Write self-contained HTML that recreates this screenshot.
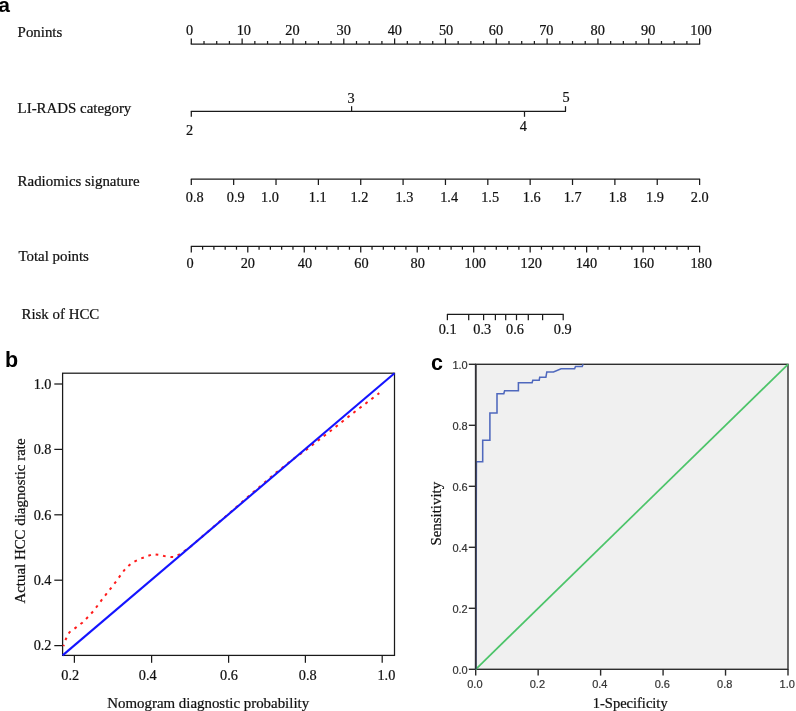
<!DOCTYPE html>
<html><head><meta charset="utf-8"><title>Nomogram figure</title>
<style>html,body{margin:0;padding:0;background:#fff;}body{width:796px;height:711px;overflow:hidden}</style>
</head><body>
<svg width="796" height="711" viewBox="0 0 796 711" style="display:block">
<text x="-1.70" y="11.60" font-size="21" text-anchor="start" font-family='"Liberation Sans", sans-serif' fill="#000" font-weight="bold">a</text>
<text x="17.60" y="36.70" font-size="14.9" text-anchor="start" font-family='"Liberation Serif", serif' fill="#111"  stroke="#111" stroke-width="0.22">Ponints</text>
<text x="17.60" y="113.10" font-size="14.9" text-anchor="start" font-family='"Liberation Serif", serif' fill="#111"  stroke="#111" stroke-width="0.22">LI-RADS category</text>
<text x="17.60" y="186.20" font-size="14.9" text-anchor="start" font-family='"Liberation Serif", serif' fill="#111"  stroke="#111" stroke-width="0.22">Radiomics signature</text>
<text x="18.40" y="261.00" font-size="14.9" text-anchor="start" font-family='"Liberation Serif", serif' fill="#111"  stroke="#111" stroke-width="0.22">Total points</text>
<text x="21.50" y="318.50" font-size="14.9" text-anchor="start" font-family='"Liberation Serif", serif' fill="#111"  stroke="#111" stroke-width="0.22">Risk of HCC</text>
<line x1="190.70" y1="44.00" x2="700.20" y2="44.00" stroke="#1a1a1a" stroke-width="1.25" />
<line x1="191.30" y1="44.00" x2="191.30" y2="38.40" stroke="#1a1a1a" stroke-width="1.25" />
<line x1="204.01" y1="44.00" x2="204.01" y2="41.00" stroke="#1a1a1a" stroke-width="1.25" />
<line x1="216.72" y1="44.00" x2="216.72" y2="41.00" stroke="#1a1a1a" stroke-width="1.25" />
<line x1="229.42" y1="44.00" x2="229.42" y2="41.00" stroke="#1a1a1a" stroke-width="1.25" />
<line x1="242.13" y1="44.00" x2="242.13" y2="38.40" stroke="#1a1a1a" stroke-width="1.25" />
<line x1="254.84" y1="44.00" x2="254.84" y2="41.00" stroke="#1a1a1a" stroke-width="1.25" />
<line x1="267.55" y1="44.00" x2="267.55" y2="41.00" stroke="#1a1a1a" stroke-width="1.25" />
<line x1="280.25" y1="44.00" x2="280.25" y2="41.00" stroke="#1a1a1a" stroke-width="1.25" />
<line x1="292.96" y1="44.00" x2="292.96" y2="38.40" stroke="#1a1a1a" stroke-width="1.25" />
<line x1="305.67" y1="44.00" x2="305.67" y2="41.00" stroke="#1a1a1a" stroke-width="1.25" />
<line x1="318.38" y1="44.00" x2="318.38" y2="41.00" stroke="#1a1a1a" stroke-width="1.25" />
<line x1="331.08" y1="44.00" x2="331.08" y2="41.00" stroke="#1a1a1a" stroke-width="1.25" />
<line x1="343.79" y1="44.00" x2="343.79" y2="38.40" stroke="#1a1a1a" stroke-width="1.25" />
<line x1="356.50" y1="44.00" x2="356.50" y2="41.00" stroke="#1a1a1a" stroke-width="1.25" />
<line x1="369.21" y1="44.00" x2="369.21" y2="41.00" stroke="#1a1a1a" stroke-width="1.25" />
<line x1="381.91" y1="44.00" x2="381.91" y2="41.00" stroke="#1a1a1a" stroke-width="1.25" />
<line x1="394.62" y1="44.00" x2="394.62" y2="38.40" stroke="#1a1a1a" stroke-width="1.25" />
<line x1="407.33" y1="44.00" x2="407.33" y2="41.00" stroke="#1a1a1a" stroke-width="1.25" />
<line x1="420.03" y1="44.00" x2="420.03" y2="41.00" stroke="#1a1a1a" stroke-width="1.25" />
<line x1="432.74" y1="44.00" x2="432.74" y2="41.00" stroke="#1a1a1a" stroke-width="1.25" />
<line x1="445.45" y1="44.00" x2="445.45" y2="38.40" stroke="#1a1a1a" stroke-width="1.25" />
<line x1="458.16" y1="44.00" x2="458.16" y2="41.00" stroke="#1a1a1a" stroke-width="1.25" />
<line x1="470.87" y1="44.00" x2="470.87" y2="41.00" stroke="#1a1a1a" stroke-width="1.25" />
<line x1="483.57" y1="44.00" x2="483.57" y2="41.00" stroke="#1a1a1a" stroke-width="1.25" />
<line x1="496.28" y1="44.00" x2="496.28" y2="38.40" stroke="#1a1a1a" stroke-width="1.25" />
<line x1="508.99" y1="44.00" x2="508.99" y2="41.00" stroke="#1a1a1a" stroke-width="1.25" />
<line x1="521.70" y1="44.00" x2="521.70" y2="41.00" stroke="#1a1a1a" stroke-width="1.25" />
<line x1="534.40" y1="44.00" x2="534.40" y2="41.00" stroke="#1a1a1a" stroke-width="1.25" />
<line x1="547.11" y1="44.00" x2="547.11" y2="38.40" stroke="#1a1a1a" stroke-width="1.25" />
<line x1="559.82" y1="44.00" x2="559.82" y2="41.00" stroke="#1a1a1a" stroke-width="1.25" />
<line x1="572.53" y1="44.00" x2="572.53" y2="41.00" stroke="#1a1a1a" stroke-width="1.25" />
<line x1="585.23" y1="44.00" x2="585.23" y2="41.00" stroke="#1a1a1a" stroke-width="1.25" />
<line x1="597.94" y1="44.00" x2="597.94" y2="38.40" stroke="#1a1a1a" stroke-width="1.25" />
<line x1="610.65" y1="44.00" x2="610.65" y2="41.00" stroke="#1a1a1a" stroke-width="1.25" />
<line x1="623.36" y1="44.00" x2="623.36" y2="41.00" stroke="#1a1a1a" stroke-width="1.25" />
<line x1="636.06" y1="44.00" x2="636.06" y2="41.00" stroke="#1a1a1a" stroke-width="1.25" />
<line x1="648.77" y1="44.00" x2="648.77" y2="38.40" stroke="#1a1a1a" stroke-width="1.25" />
<line x1="661.48" y1="44.00" x2="661.48" y2="41.00" stroke="#1a1a1a" stroke-width="1.25" />
<line x1="674.19" y1="44.00" x2="674.19" y2="41.00" stroke="#1a1a1a" stroke-width="1.25" />
<line x1="686.89" y1="44.00" x2="686.89" y2="41.00" stroke="#1a1a1a" stroke-width="1.25" />
<line x1="699.60" y1="44.00" x2="699.60" y2="38.40" stroke="#1a1a1a" stroke-width="1.25" />
<text x="189.50" y="34.60" font-size="14.3" text-anchor="middle" font-family='"Liberation Serif", serif' fill="#111"  stroke="#111" stroke-width="0.22">0</text>
<text x="243.83" y="34.60" font-size="14.3" text-anchor="middle" font-family='"Liberation Serif", serif' fill="#111"  stroke="#111" stroke-width="0.22">10</text>
<text x="292.46" y="34.60" font-size="14.3" text-anchor="middle" font-family='"Liberation Serif", serif' fill="#111"  stroke="#111" stroke-width="0.22">20</text>
<text x="343.69" y="34.60" font-size="14.3" text-anchor="middle" font-family='"Liberation Serif", serif' fill="#111"  stroke="#111" stroke-width="0.22">30</text>
<text x="394.82" y="34.60" font-size="14.3" text-anchor="middle" font-family='"Liberation Serif", serif' fill="#111"  stroke="#111" stroke-width="0.22">40</text>
<text x="446.05" y="34.60" font-size="14.3" text-anchor="middle" font-family='"Liberation Serif", serif' fill="#111"  stroke="#111" stroke-width="0.22">50</text>
<text x="495.98" y="34.60" font-size="14.3" text-anchor="middle" font-family='"Liberation Serif", serif' fill="#111"  stroke="#111" stroke-width="0.22">60</text>
<text x="546.31" y="34.60" font-size="14.3" text-anchor="middle" font-family='"Liberation Serif", serif' fill="#111"  stroke="#111" stroke-width="0.22">70</text>
<text x="597.64" y="34.60" font-size="14.3" text-anchor="middle" font-family='"Liberation Serif", serif' fill="#111"  stroke="#111" stroke-width="0.22">80</text>
<text x="648.17" y="34.60" font-size="14.3" text-anchor="middle" font-family='"Liberation Serif", serif' fill="#111"  stroke="#111" stroke-width="0.22">90</text>
<text x="701.05" y="34.60" font-size="14.3" text-anchor="middle" font-family='"Liberation Serif", serif' fill="#111"  stroke="#111" stroke-width="0.22">100</text>
<line x1="190.80" y1="111.30" x2="566.00" y2="111.30" stroke="#1a1a1a" stroke-width="1.25" />
<line x1="191.30" y1="111.30" x2="191.30" y2="116.80" stroke="#1a1a1a" stroke-width="1.25" />
<line x1="351.60" y1="111.30" x2="351.60" y2="106.20" stroke="#1a1a1a" stroke-width="1.25" />
<line x1="524.50" y1="111.30" x2="524.50" y2="116.80" stroke="#1a1a1a" stroke-width="1.25" />
<line x1="565.50" y1="111.30" x2="565.50" y2="106.20" stroke="#1a1a1a" stroke-width="1.25" />
<text x="189.50" y="135.40" font-size="14.3" text-anchor="middle" font-family='"Liberation Serif", serif' fill="#111"  stroke="#111" stroke-width="0.22">2</text>
<text x="351.00" y="102.50" font-size="14.3" text-anchor="middle" font-family='"Liberation Serif", serif' fill="#111"  stroke="#111" stroke-width="0.22">3</text>
<text x="523.30" y="131.30" font-size="14.3" text-anchor="middle" font-family='"Liberation Serif", serif' fill="#111"  stroke="#111" stroke-width="0.22">4</text>
<text x="566.20" y="102.30" font-size="14.3" text-anchor="middle" font-family='"Liberation Serif", serif' fill="#111"  stroke="#111" stroke-width="0.22">5</text>
<line x1="190.80" y1="179.00" x2="700.10" y2="179.00" stroke="#1a1a1a" stroke-width="1.25" />
<line x1="191.30" y1="179.00" x2="191.30" y2="185.00" stroke="#1a1a1a" stroke-width="1.25" />
<text x="194.80" y="202.20" font-size="14.3" text-anchor="middle" font-family='"Liberation Serif", serif' fill="#111"  stroke="#111" stroke-width="0.22">0.8</text>
<line x1="233.66" y1="179.00" x2="233.66" y2="185.00" stroke="#1a1a1a" stroke-width="1.25" />
<text x="235.80" y="202.20" font-size="14.3" text-anchor="middle" font-family='"Liberation Serif", serif' fill="#111"  stroke="#111" stroke-width="0.22">0.9</text>
<line x1="276.02" y1="179.00" x2="276.02" y2="185.00" stroke="#1a1a1a" stroke-width="1.25" />
<text x="270.00" y="202.20" font-size="14.3" text-anchor="middle" font-family='"Liberation Serif", serif' fill="#111"  stroke="#111" stroke-width="0.22">1.0</text>
<line x1="318.38" y1="179.00" x2="318.38" y2="185.00" stroke="#1a1a1a" stroke-width="1.25" />
<text x="317.70" y="202.20" font-size="14.3" text-anchor="middle" font-family='"Liberation Serif", serif' fill="#111"  stroke="#111" stroke-width="0.22">1.1</text>
<line x1="360.73" y1="179.00" x2="360.73" y2="185.00" stroke="#1a1a1a" stroke-width="1.25" />
<text x="359.40" y="202.20" font-size="14.3" text-anchor="middle" font-family='"Liberation Serif", serif' fill="#111"  stroke="#111" stroke-width="0.22">1.2</text>
<line x1="403.09" y1="179.00" x2="403.09" y2="185.00" stroke="#1a1a1a" stroke-width="1.25" />
<text x="404.40" y="202.20" font-size="14.3" text-anchor="middle" font-family='"Liberation Serif", serif' fill="#111"  stroke="#111" stroke-width="0.22">1.3</text>
<line x1="445.45" y1="179.00" x2="445.45" y2="185.00" stroke="#1a1a1a" stroke-width="1.25" />
<text x="449.10" y="202.20" font-size="14.3" text-anchor="middle" font-family='"Liberation Serif", serif' fill="#111"  stroke="#111" stroke-width="0.22">1.4</text>
<line x1="487.81" y1="179.00" x2="487.81" y2="185.00" stroke="#1a1a1a" stroke-width="1.25" />
<text x="490.10" y="202.20" font-size="14.3" text-anchor="middle" font-family='"Liberation Serif", serif' fill="#111"  stroke="#111" stroke-width="0.22">1.5</text>
<line x1="530.17" y1="179.00" x2="530.17" y2="185.00" stroke="#1a1a1a" stroke-width="1.25" />
<text x="531.80" y="202.20" font-size="14.3" text-anchor="middle" font-family='"Liberation Serif", serif' fill="#111"  stroke="#111" stroke-width="0.22">1.6</text>
<line x1="572.52" y1="179.00" x2="572.52" y2="185.00" stroke="#1a1a1a" stroke-width="1.25" />
<text x="572.60" y="202.20" font-size="14.3" text-anchor="middle" font-family='"Liberation Serif", serif' fill="#111"  stroke="#111" stroke-width="0.22">1.7</text>
<line x1="614.88" y1="179.00" x2="614.88" y2="185.00" stroke="#1a1a1a" stroke-width="1.25" />
<text x="617.80" y="202.20" font-size="14.3" text-anchor="middle" font-family='"Liberation Serif", serif' fill="#111"  stroke="#111" stroke-width="0.22">1.8</text>
<line x1="657.24" y1="179.00" x2="657.24" y2="185.00" stroke="#1a1a1a" stroke-width="1.25" />
<text x="655.00" y="202.20" font-size="14.3" text-anchor="middle" font-family='"Liberation Serif", serif' fill="#111"  stroke="#111" stroke-width="0.22">1.9</text>
<line x1="699.60" y1="179.00" x2="699.60" y2="185.00" stroke="#1a1a1a" stroke-width="1.25" />
<text x="699.70" y="202.20" font-size="14.3" text-anchor="middle" font-family='"Liberation Serif", serif' fill="#111"  stroke="#111" stroke-width="0.22">2.0</text>
<line x1="190.80" y1="246.40" x2="700.10" y2="246.40" stroke="#1a1a1a" stroke-width="1.25" />
<line x1="191.30" y1="246.40" x2="191.30" y2="252.50" stroke="#1a1a1a" stroke-width="1.25" />
<line x1="202.60" y1="246.40" x2="202.60" y2="249.70" stroke="#1a1a1a" stroke-width="1.25" />
<line x1="213.89" y1="246.40" x2="213.89" y2="249.70" stroke="#1a1a1a" stroke-width="1.25" />
<line x1="225.19" y1="246.40" x2="225.19" y2="249.70" stroke="#1a1a1a" stroke-width="1.25" />
<line x1="236.48" y1="246.40" x2="236.48" y2="249.70" stroke="#1a1a1a" stroke-width="1.25" />
<line x1="247.78" y1="246.40" x2="247.78" y2="252.50" stroke="#1a1a1a" stroke-width="1.25" />
<line x1="259.07" y1="246.40" x2="259.07" y2="249.70" stroke="#1a1a1a" stroke-width="1.25" />
<line x1="270.37" y1="246.40" x2="270.37" y2="249.70" stroke="#1a1a1a" stroke-width="1.25" />
<line x1="281.66" y1="246.40" x2="281.66" y2="249.70" stroke="#1a1a1a" stroke-width="1.25" />
<line x1="292.96" y1="246.40" x2="292.96" y2="249.70" stroke="#1a1a1a" stroke-width="1.25" />
<line x1="304.26" y1="246.40" x2="304.26" y2="252.50" stroke="#1a1a1a" stroke-width="1.25" />
<line x1="315.55" y1="246.40" x2="315.55" y2="249.70" stroke="#1a1a1a" stroke-width="1.25" />
<line x1="326.85" y1="246.40" x2="326.85" y2="249.70" stroke="#1a1a1a" stroke-width="1.25" />
<line x1="338.14" y1="246.40" x2="338.14" y2="249.70" stroke="#1a1a1a" stroke-width="1.25" />
<line x1="349.44" y1="246.40" x2="349.44" y2="249.70" stroke="#1a1a1a" stroke-width="1.25" />
<line x1="360.73" y1="246.40" x2="360.73" y2="252.50" stroke="#1a1a1a" stroke-width="1.25" />
<line x1="372.03" y1="246.40" x2="372.03" y2="249.70" stroke="#1a1a1a" stroke-width="1.25" />
<line x1="383.32" y1="246.40" x2="383.32" y2="249.70" stroke="#1a1a1a" stroke-width="1.25" />
<line x1="394.62" y1="246.40" x2="394.62" y2="249.70" stroke="#1a1a1a" stroke-width="1.25" />
<line x1="405.92" y1="246.40" x2="405.92" y2="249.70" stroke="#1a1a1a" stroke-width="1.25" />
<line x1="417.21" y1="246.40" x2="417.21" y2="252.50" stroke="#1a1a1a" stroke-width="1.25" />
<line x1="428.51" y1="246.40" x2="428.51" y2="249.70" stroke="#1a1a1a" stroke-width="1.25" />
<line x1="439.80" y1="246.40" x2="439.80" y2="249.70" stroke="#1a1a1a" stroke-width="1.25" />
<line x1="451.10" y1="246.40" x2="451.10" y2="249.70" stroke="#1a1a1a" stroke-width="1.25" />
<line x1="462.39" y1="246.40" x2="462.39" y2="249.70" stroke="#1a1a1a" stroke-width="1.25" />
<line x1="473.69" y1="246.40" x2="473.69" y2="252.50" stroke="#1a1a1a" stroke-width="1.25" />
<line x1="484.98" y1="246.40" x2="484.98" y2="249.70" stroke="#1a1a1a" stroke-width="1.25" />
<line x1="496.28" y1="246.40" x2="496.28" y2="249.70" stroke="#1a1a1a" stroke-width="1.25" />
<line x1="507.58" y1="246.40" x2="507.58" y2="249.70" stroke="#1a1a1a" stroke-width="1.25" />
<line x1="518.87" y1="246.40" x2="518.87" y2="249.70" stroke="#1a1a1a" stroke-width="1.25" />
<line x1="530.17" y1="246.40" x2="530.17" y2="252.50" stroke="#1a1a1a" stroke-width="1.25" />
<line x1="541.46" y1="246.40" x2="541.46" y2="249.70" stroke="#1a1a1a" stroke-width="1.25" />
<line x1="552.76" y1="246.40" x2="552.76" y2="249.70" stroke="#1a1a1a" stroke-width="1.25" />
<line x1="564.05" y1="246.40" x2="564.05" y2="249.70" stroke="#1a1a1a" stroke-width="1.25" />
<line x1="575.35" y1="246.40" x2="575.35" y2="249.70" stroke="#1a1a1a" stroke-width="1.25" />
<line x1="586.64" y1="246.40" x2="586.64" y2="252.50" stroke="#1a1a1a" stroke-width="1.25" />
<line x1="597.94" y1="246.40" x2="597.94" y2="249.70" stroke="#1a1a1a" stroke-width="1.25" />
<line x1="609.24" y1="246.40" x2="609.24" y2="249.70" stroke="#1a1a1a" stroke-width="1.25" />
<line x1="620.53" y1="246.40" x2="620.53" y2="249.70" stroke="#1a1a1a" stroke-width="1.25" />
<line x1="631.83" y1="246.40" x2="631.83" y2="249.70" stroke="#1a1a1a" stroke-width="1.25" />
<line x1="643.12" y1="246.40" x2="643.12" y2="252.50" stroke="#1a1a1a" stroke-width="1.25" />
<line x1="654.42" y1="246.40" x2="654.42" y2="249.70" stroke="#1a1a1a" stroke-width="1.25" />
<line x1="665.71" y1="246.40" x2="665.71" y2="249.70" stroke="#1a1a1a" stroke-width="1.25" />
<line x1="677.01" y1="246.40" x2="677.01" y2="249.70" stroke="#1a1a1a" stroke-width="1.25" />
<line x1="688.30" y1="246.40" x2="688.30" y2="249.70" stroke="#1a1a1a" stroke-width="1.25" />
<line x1="699.60" y1="246.40" x2="699.60" y2="252.50" stroke="#1a1a1a" stroke-width="1.25" />
<text x="190.00" y="268.00" font-size="14.3" text-anchor="middle" font-family='"Liberation Serif", serif' fill="#111"  stroke="#111" stroke-width="0.22">0</text>
<text x="247.80" y="268.00" font-size="14.3" text-anchor="middle" font-family='"Liberation Serif", serif' fill="#111"  stroke="#111" stroke-width="0.22">20</text>
<text x="304.90" y="268.00" font-size="14.3" text-anchor="middle" font-family='"Liberation Serif", serif' fill="#111"  stroke="#111" stroke-width="0.22">40</text>
<text x="361.40" y="268.00" font-size="14.3" text-anchor="middle" font-family='"Liberation Serif", serif' fill="#111"  stroke="#111" stroke-width="0.22">60</text>
<text x="417.70" y="268.00" font-size="14.3" text-anchor="middle" font-family='"Liberation Serif", serif' fill="#111"  stroke="#111" stroke-width="0.22">80</text>
<text x="475.30" y="268.00" font-size="14.3" text-anchor="middle" font-family='"Liberation Serif", serif' fill="#111"  stroke="#111" stroke-width="0.22">100</text>
<text x="531.30" y="268.00" font-size="14.3" text-anchor="middle" font-family='"Liberation Serif", serif' fill="#111"  stroke="#111" stroke-width="0.22">120</text>
<text x="586.40" y="268.00" font-size="14.3" text-anchor="middle" font-family='"Liberation Serif", serif' fill="#111"  stroke="#111" stroke-width="0.22">140</text>
<text x="643.40" y="268.00" font-size="14.3" text-anchor="middle" font-family='"Liberation Serif", serif' fill="#111"  stroke="#111" stroke-width="0.22">160</text>
<text x="701.20" y="268.00" font-size="14.3" text-anchor="middle" font-family='"Liberation Serif", serif' fill="#111"  stroke="#111" stroke-width="0.22">180</text>
<line x1="446.90" y1="314.40" x2="563.70" y2="314.40" stroke="#1a1a1a" stroke-width="1.25" />
<line x1="447.40" y1="314.40" x2="447.40" y2="320.20" stroke="#1a1a1a" stroke-width="1.25" />
<line x1="468.70" y1="314.40" x2="468.70" y2="320.20" stroke="#1a1a1a" stroke-width="1.25" />
<line x1="483.60" y1="314.40" x2="483.60" y2="320.20" stroke="#1a1a1a" stroke-width="1.25" />
<line x1="495.40" y1="314.40" x2="495.40" y2="320.20" stroke="#1a1a1a" stroke-width="1.25" />
<line x1="505.70" y1="314.40" x2="505.70" y2="320.20" stroke="#1a1a1a" stroke-width="1.25" />
<line x1="516.50" y1="314.40" x2="516.50" y2="320.20" stroke="#1a1a1a" stroke-width="1.25" />
<line x1="528.30" y1="314.40" x2="528.30" y2="320.20" stroke="#1a1a1a" stroke-width="1.25" />
<line x1="542.60" y1="314.40" x2="542.60" y2="320.20" stroke="#1a1a1a" stroke-width="1.25" />
<line x1="563.20" y1="314.40" x2="563.20" y2="320.20" stroke="#1a1a1a" stroke-width="1.25" />
<text x="447.60" y="334.00" font-size="14.3" text-anchor="middle" font-family='"Liberation Serif", serif' fill="#111"  stroke="#111" stroke-width="0.22">0.1</text>
<text x="482.30" y="334.00" font-size="14.3" text-anchor="middle" font-family='"Liberation Serif", serif' fill="#111"  stroke="#111" stroke-width="0.22">0.3</text>
<text x="515.00" y="334.00" font-size="14.3" text-anchor="middle" font-family='"Liberation Serif", serif' fill="#111"  stroke="#111" stroke-width="0.22">0.6</text>
<text x="562.70" y="334.00" font-size="14.3" text-anchor="middle" font-family='"Liberation Serif", serif' fill="#111"  stroke="#111" stroke-width="0.22">0.9</text>
<text x="5.10" y="366.90" font-size="21.5" text-anchor="start" font-family='"Liberation Sans", sans-serif' fill="#000" font-weight="bold">b</text>
<rect x="62.6" y="373.2" width="331.9" height="282.2" fill="none" stroke="#1a1a1a" stroke-width="1.25"/>
<line x1="54.30" y1="384.00" x2="62.60" y2="384.00" stroke="#1a1a1a" stroke-width="1.25" />
<text x="51.50" y="388.70" font-size="14.3" text-anchor="end" font-family='"Liberation Serif", serif' fill="#111"  stroke="#111" stroke-width="0.22">1.0</text>
<line x1="54.30" y1="449.40" x2="62.60" y2="449.40" stroke="#1a1a1a" stroke-width="1.25" />
<text x="51.50" y="454.10" font-size="14.3" text-anchor="end" font-family='"Liberation Serif", serif' fill="#111"  stroke="#111" stroke-width="0.22">0.8</text>
<line x1="54.30" y1="514.80" x2="62.60" y2="514.80" stroke="#1a1a1a" stroke-width="1.25" />
<text x="51.50" y="519.50" font-size="14.3" text-anchor="end" font-family='"Liberation Serif", serif' fill="#111"  stroke="#111" stroke-width="0.22">0.6</text>
<line x1="54.30" y1="580.20" x2="62.60" y2="580.20" stroke="#1a1a1a" stroke-width="1.25" />
<text x="51.50" y="584.90" font-size="14.3" text-anchor="end" font-family='"Liberation Serif", serif' fill="#111"  stroke="#111" stroke-width="0.22">0.4</text>
<line x1="54.30" y1="645.60" x2="62.60" y2="645.60" stroke="#1a1a1a" stroke-width="1.25" />
<text x="51.50" y="650.30" font-size="14.3" text-anchor="end" font-family='"Liberation Serif", serif' fill="#111"  stroke="#111" stroke-width="0.22">0.2</text>
<line x1="74.40" y1="655.40" x2="74.40" y2="662.80" stroke="#1a1a1a" stroke-width="1.25" />
<text x="70.30" y="680.40" font-size="14.3" text-anchor="middle" font-family='"Liberation Serif", serif' fill="#111"  stroke="#111" stroke-width="0.22">0.2</text>
<line x1="151.60" y1="655.40" x2="151.60" y2="662.80" stroke="#1a1a1a" stroke-width="1.25" />
<text x="147.80" y="680.40" font-size="14.3" text-anchor="middle" font-family='"Liberation Serif", serif' fill="#111"  stroke="#111" stroke-width="0.22">0.4</text>
<line x1="228.60" y1="655.40" x2="228.60" y2="662.80" stroke="#1a1a1a" stroke-width="1.25" />
<text x="229.00" y="680.40" font-size="14.3" text-anchor="middle" font-family='"Liberation Serif", serif' fill="#111"  stroke="#111" stroke-width="0.22">0.6</text>
<line x1="305.40" y1="655.40" x2="305.40" y2="662.80" stroke="#1a1a1a" stroke-width="1.25" />
<text x="307.80" y="680.40" font-size="14.3" text-anchor="middle" font-family='"Liberation Serif", serif' fill="#111"  stroke="#111" stroke-width="0.22">0.8</text>
<line x1="382.20" y1="655.40" x2="382.20" y2="662.80" stroke="#1a1a1a" stroke-width="1.25" />
<text x="386.40" y="680.40" font-size="14.3" text-anchor="middle" font-family='"Liberation Serif", serif' fill="#111"  stroke="#111" stroke-width="0.22">1.0</text>
<text x="208.20" y="707.50" font-size="14.9" text-anchor="middle" font-family='"Liberation Serif", serif' fill="#111"  stroke="#111" stroke-width="0.22">Nomogram diagnostic probability</text>
<text transform="translate(25.3,521) rotate(-90)" font-size="14.9" text-anchor="middle" font-family='"Liberation Serif", serif' fill="#111" stroke="#111" stroke-width="0.22">Actual HCC diagnostic rate</text>
<path d="M63.4,646.1 L65.9,639.0 L69.4,632.3 L76.1,627.4 L82.3,622.7 L88.1,616.9 L93.7,610.7 L98.4,604.5 L102.8,598.4 L107.8,592.2 L112.5,586.1 L117.1,580.1 L121.5,573.8 L125.9,568.1 L131.9,562.9 L138.9,559.3 L145.9,556.7 L153.0,554.1 L160.0,554.9 L167.0,556.7 L174.1,557.1 L180.7,553.7 L190.0,547.0 L210.0,529.9 L230.0,512.7 L250.0,495.1 L275.0,473.5 L288.0,463.2 L295.0,457.8 L306.4,449.7 L313.1,444.4 L330.7,430.8 L354.2,412.2 L366.2,403.1 L378.5,393.7 L379.3,393.1" fill="none" stroke="#ff1a1a" stroke-width="2.0" stroke-dasharray="2.7 4.85" stroke-dashoffset="1.3"/>
<line x1="62.60" y1="655.40" x2="394.50" y2="373.20" stroke="#1414ff" stroke-width="2.1" />
<text x="431.00" y="370.20" font-size="21.5" text-anchor="start" font-family='"Liberation Sans", sans-serif' fill="#000" font-weight="bold">c</text>
<rect x="475.7" y="364.3" width="312.3" height="304.99999999999994" fill="#f0f0f0" stroke="#2e2e2e" stroke-width="1.4"/>
<line x1="468.80" y1="364.30" x2="475.70" y2="364.30" stroke="#2a2a2a" stroke-width="1.4" />
<text x="467.70" y="369.10" font-size="11" text-anchor="end" font-family='"Liberation Sans", sans-serif' fill="#333"  stroke="#333" stroke-width="0.2">1.0</text>
<line x1="468.80" y1="425.30" x2="475.70" y2="425.30" stroke="#2a2a2a" stroke-width="1.4" />
<text x="467.70" y="430.10" font-size="11" text-anchor="end" font-family='"Liberation Sans", sans-serif' fill="#333"  stroke="#333" stroke-width="0.2">0.8</text>
<line x1="468.80" y1="486.30" x2="475.70" y2="486.30" stroke="#2a2a2a" stroke-width="1.4" />
<text x="467.70" y="491.10" font-size="11" text-anchor="end" font-family='"Liberation Sans", sans-serif' fill="#333"  stroke="#333" stroke-width="0.2">0.6</text>
<line x1="468.80" y1="547.30" x2="475.70" y2="547.30" stroke="#2a2a2a" stroke-width="1.4" />
<text x="467.70" y="552.10" font-size="11" text-anchor="end" font-family='"Liberation Sans", sans-serif' fill="#333"  stroke="#333" stroke-width="0.2">0.4</text>
<line x1="468.80" y1="608.30" x2="475.70" y2="608.30" stroke="#2a2a2a" stroke-width="1.4" />
<text x="467.70" y="613.10" font-size="11" text-anchor="end" font-family='"Liberation Sans", sans-serif' fill="#333"  stroke="#333" stroke-width="0.2">0.2</text>
<line x1="468.80" y1="669.30" x2="475.70" y2="669.30" stroke="#2a2a2a" stroke-width="1.4" />
<text x="467.70" y="674.10" font-size="11" text-anchor="end" font-family='"Liberation Sans", sans-serif' fill="#333"  stroke="#333" stroke-width="0.2">0.0</text>
<line x1="475.70" y1="669.30" x2="475.70" y2="675.60" stroke="#2a2a2a" stroke-width="1.4" />
<text x="474.90" y="688.00" font-size="11" text-anchor="middle" font-family='"Liberation Sans", sans-serif' fill="#333"  stroke="#333" stroke-width="0.2">0.0</text>
<line x1="538.16" y1="669.30" x2="538.16" y2="675.60" stroke="#2a2a2a" stroke-width="1.4" />
<text x="537.36" y="688.00" font-size="11" text-anchor="middle" font-family='"Liberation Sans", sans-serif' fill="#333"  stroke="#333" stroke-width="0.2">0.2</text>
<line x1="600.62" y1="669.30" x2="600.62" y2="675.60" stroke="#2a2a2a" stroke-width="1.4" />
<text x="599.82" y="688.00" font-size="11" text-anchor="middle" font-family='"Liberation Sans", sans-serif' fill="#333"  stroke="#333" stroke-width="0.2">0.4</text>
<line x1="663.08" y1="669.30" x2="663.08" y2="675.60" stroke="#2a2a2a" stroke-width="1.4" />
<text x="662.28" y="688.00" font-size="11" text-anchor="middle" font-family='"Liberation Sans", sans-serif' fill="#333"  stroke="#333" stroke-width="0.2">0.6</text>
<line x1="725.54" y1="669.30" x2="725.54" y2="675.60" stroke="#2a2a2a" stroke-width="1.4" />
<text x="724.74" y="688.00" font-size="11" text-anchor="middle" font-family='"Liberation Sans", sans-serif' fill="#333"  stroke="#333" stroke-width="0.2">0.8</text>
<line x1="788.00" y1="669.30" x2="788.00" y2="675.60" stroke="#2a2a2a" stroke-width="1.4" />
<text x="787.20" y="688.00" font-size="11" text-anchor="middle" font-family='"Liberation Sans", sans-serif' fill="#333"  stroke="#333" stroke-width="0.2">1.0</text>
<text x="630.20" y="708.00" font-size="14.5" text-anchor="middle" font-family='"Liberation Serif", serif' fill="#111"  stroke="#111" stroke-width="0.22">1-Specificity</text>
<text transform="translate(440.8,513.7) rotate(-90)" font-size="14.9" text-anchor="middle" font-family='"Liberation Serif", serif' fill="#111" stroke="#111" stroke-width="0.22">Sensitivity</text>
<line x1="475.70" y1="669.30" x2="788.00" y2="364.30" stroke="#4cc469" stroke-width="1.7" />
<path d="M475.7,669.3 L476.4,461.7 L482.7,461.7 L482.7,440.2 L489.9,440.2 L489.9,412.9 L497.0,412.9 L497.0,393.8 L503.8,393.8 L504.6,390.8 L518.4,390.8 L518.4,382.8 L532.1,382.8 L532.8,380.3 L539.2,380.3 L539.7,377.3 L545.9,377.3 L546.8,371.9 L553.5,371.9 L561.1,368.8 L574.6,368.8 L575.5,366.5 L582.2,366.5 L583.1,364.3" fill="none" stroke="#4f68bd" stroke-width="1.55" stroke-linejoin="miter"/>
<line x1="475.70" y1="364.30" x2="475.70" y2="669.30" stroke="#303036" stroke-width="1.7" />
</svg>
</body></html>
